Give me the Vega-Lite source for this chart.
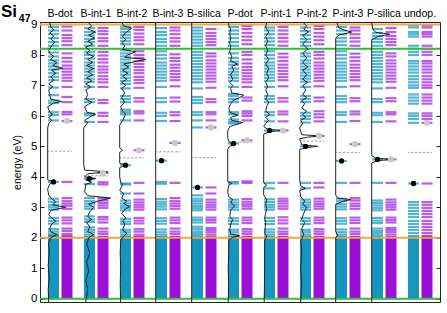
{
"$schema":"https://vega.github.io/schema/vega-lite/v6.json",
"width":400,"height":280,"autosize":"none",
"padding":{"left":40,"top":22,"right":7,"bottom":11},
"config":{"view":{"stroke":"#222","strokeWidth":1},"font":"Liberation Sans","axis":{"labelFont":"Liberation Sans","titleFont":"Liberation Sans"}},
"title":{"text":"Si","subtitle":"\u200b\u2003\u2002\u200947","anchor":"start","frame":"group","dx":-39,"dy":17,"offset":0,"fontSize":17,"fontWeight":"bold","font":"Liberation Sans","color":"#000","subtitleFont":"Liberation Sans","subtitleFontSize":10.5,"subtitleFontWeight":"bold","subtitleColor":"#000","subtitlePadding":-7},
"datasets":{
"blk":[{"c":0,"s":"u","lo":0,"hi":2.1},{"c":0,"s":"d","lo":0,"hi":2.08},{"c":1,"s":"u","lo":0,"hi":2.06},{"c":1,"s":"d","lo":0,"hi":2.06},{"c":2,"s":"u","lo":0,"hi":2.06},{"c":2,"s":"d","lo":0,"hi":2.06},{"c":3,"s":"u","lo":0,"hi":2.06},{"c":3,"s":"d","lo":0,"hi":2.06},{"c":4,"s":"u","lo":0,"hi":2.05},{"c":4,"s":"d","lo":0,"hi":2.05},{"c":5,"s":"u","lo":0,"hi":2.06},{"c":5,"s":"d","lo":0,"hi":2.06},{"c":6,"s":"u","lo":0,"hi":2.06},{"c":6,"s":"d","lo":0,"hi":2.06},{"c":7,"s":"u","lo":0,"hi":2.06},{"c":7,"s":"d","lo":0,"hi":2.06},{"c":8,"s":"u","lo":0,"hi":2.06},{"c":8,"s":"d","lo":0,"hi":2.06},{"c":9,"s":"u","lo":0,"hi":2.05},{"c":9,"s":"d","lo":0,"hi":2.05},{"c":10,"s":"u","lo":0,"hi":2.08},{"c":10,"s":"d","lo":0,"hi":2.08}],
"lv":[
{"c":0,"s":"u","e":2.12},{"c":0,"s":"u","e":2.2},{"c":0,"s":"u","e":2.28},{"c":0,"s":"u","e":2.46},{"c":0,"s":"u","e":2.55},{"c":0,"s":"u","e":2.65},{"c":0,"s":"u","e":2.92},{"c":0,"s":"u","e":3.0},{"c":0,"s":"u","e":3.08},{"c":0,"s":"u","e":3.18},{"c":0,"s":"u","e":3.28},{"c":0,"s":"u","e":3.83},{"c":0,"s":"u","e":5.85},{"c":0,"s":"u","e":6.03},{"c":0,"s":"u","e":6.12},{"c":0,"s":"u","e":6.42},{"c":0,"s":"u","e":6.5},{"c":0,"s":"u","e":6.68},{"c":0,"s":"u","e":6.93},{"c":0,"s":"u","e":7.17},{"c":0,"s":"u","e":7.28},{"c":0,"s":"u","e":7.4},{"c":0,"s":"u","e":7.52},{"c":0,"s":"u","e":7.62},{"c":0,"s":"u","e":7.72},{"c":0,"s":"u","e":7.82},{"c":0,"s":"u","e":7.95},{"c":0,"s":"u","e":8.08},{"c":0,"s":"u","e":8.3},{"c":0,"s":"u","e":8.42},{"c":0,"s":"u","e":8.55},{"c":0,"s":"u","e":8.68},{"c":0,"s":"u","e":8.8},{"c":0,"s":"u","e":8.92},
{"c":0,"s":"d","e":2.12},{"c":0,"s":"d","e":2.22},{"c":0,"s":"d","e":2.3},{"c":0,"s":"d","e":2.47},{"c":0,"s":"d","e":2.57},{"c":0,"s":"d","e":2.66},{"c":0,"s":"d","e":2.95},{"c":0,"s":"d","e":3.05},{"c":0,"s":"d","e":3.12},{"c":0,"s":"d","e":3.2},{"c":0,"s":"d","e":3.3},{"c":0,"s":"d","e":3.83},{"c":0,"s":"d","e":5.83},{"c":0,"s":"d","e":6.05},{"c":0,"s":"d","e":6.13},{"c":0,"s":"d","e":6.45},{"c":0,"s":"d","e":6.62},{"c":0,"s":"d","e":6.95},{"c":0,"s":"d","e":7.15},{"c":0,"s":"d","e":7.25},{"c":0,"s":"d","e":7.35},{"c":0,"s":"d","e":7.45},{"c":0,"s":"d","e":7.55},{"c":0,"s":"d","e":7.65},{"c":0,"s":"d","e":7.78},{"c":0,"s":"d","e":7.9},{"c":0,"s":"d","e":8.05},{"c":0,"s":"d","e":8.32},{"c":0,"s":"d","e":8.45},{"c":0,"s":"d","e":8.55},{"c":0,"s":"d","e":8.65},{"c":0,"s":"d","e":8.8},{"c":0,"s":"d","e":8.93},
{"c":1,"s":"u","e":2.1},{"c":1,"s":"u","e":2.18},{"c":1,"s":"u","e":2.26},{"c":1,"s":"u","e":2.34},{"c":1,"s":"u","e":2.52},{"c":1,"s":"u","e":2.6},{"c":1,"s":"u","e":2.7},{"c":1,"s":"u","e":2.95},{"c":1,"s":"u","e":3.03},{"c":1,"s":"u","e":3.12},{"c":1,"s":"u","e":3.2},{"c":1,"s":"u","e":3.3},{"c":1,"s":"u","e":3.76},{"c":1,"s":"u","e":3.94},{"c":1,"s":"u","e":5.8},{"c":1,"s":"u","e":6.02},{"c":1,"s":"u","e":6.08},{"c":1,"s":"u","e":6.45},{"c":1,"s":"u","e":6.55},{"c":1,"s":"u","e":6.95},{"c":1,"s":"u","e":7.12},{"c":1,"s":"u","e":7.22},{"c":1,"s":"u","e":7.33},{"c":1,"s":"u","e":7.45},{"c":1,"s":"u","e":7.55},{"c":1,"s":"u","e":7.65},{"c":1,"s":"u","e":7.75},{"c":1,"s":"u","e":7.88},{"c":1,"s":"u","e":8.0},{"c":1,"s":"u","e":8.1},{"c":1,"s":"u","e":8.3},{"c":1,"s":"u","e":8.42},{"c":1,"s":"u","e":8.52},{"c":1,"s":"u","e":8.64},{"c":1,"s":"u","e":8.75},{"c":1,"s":"u","e":8.88},
{"c":1,"s":"d","e":2.12},{"c":1,"s":"d","e":2.2},{"c":1,"s":"d","e":2.3},{"c":1,"s":"d","e":2.5},{"c":1,"s":"d","e":2.6},{"c":1,"s":"d","e":2.68},{"c":1,"s":"d","e":2.98},{"c":1,"s":"d","e":3.06},{"c":1,"s":"d","e":3.14},{"c":1,"s":"d","e":3.22},{"c":1,"s":"d","e":3.3},{"c":1,"s":"d","e":3.75},{"c":1,"s":"d","e":3.82},{"c":1,"s":"d","e":4.13},{"c":1,"s":"d","e":5.8},{"c":1,"s":"d","e":6.0},{"c":1,"s":"d","e":6.1},{"c":1,"s":"d","e":6.42},{"c":1,"s":"d","e":6.52},{"c":1,"s":"d","e":6.95},{"c":1,"s":"d","e":7.1},{"c":1,"s":"d","e":7.2},{"c":1,"s":"d","e":7.3},{"c":1,"s":"d","e":7.42},{"c":1,"s":"d","e":7.52},{"c":1,"s":"d","e":7.62},{"c":1,"s":"d","e":7.75},{"c":1,"s":"d","e":7.86},{"c":1,"s":"d","e":7.98},{"c":1,"s":"d","e":8.1},{"c":1,"s":"d","e":8.3},{"c":1,"s":"d","e":8.45},{"c":1,"s":"d","e":8.55},{"c":1,"s":"d","e":8.68},{"c":1,"s":"d","e":8.78},{"c":1,"s":"d","e":8.88},
{"c":2,"s":"u","e":2.1},{"c":2,"s":"u","e":2.18},{"c":2,"s":"u","e":2.26},{"c":2,"s":"u","e":2.45},{"c":2,"s":"u","e":2.53},{"c":2,"s":"u","e":2.62},{"c":2,"s":"u","e":2.9},{"c":2,"s":"u","e":2.98},{"c":2,"s":"u","e":3.05},{"c":2,"s":"u","e":3.13},{"c":2,"s":"u","e":3.22},{"c":2,"s":"u","e":3.45},{"c":2,"s":"u","e":3.75},{"c":2,"s":"u","e":3.78},{"c":2,"s":"u","e":4.38},{"c":2,"s":"u","e":5.85},{"c":2,"s":"u","e":6.05},{"c":2,"s":"u","e":6.12},{"c":2,"s":"u","e":6.2},{"c":2,"s":"u","e":6.45},{"c":2,"s":"u","e":6.55},{"c":2,"s":"u","e":6.65},{"c":2,"s":"u","e":6.9},{"c":2,"s":"u","e":7.05},{"c":2,"s":"u","e":7.15},{"c":2,"s":"u","e":7.25},{"c":2,"s":"u","e":7.35},{"c":2,"s":"u","e":7.45},{"c":2,"s":"u","e":7.55},{"c":2,"s":"u","e":7.65},{"c":2,"s":"u","e":7.75},{"c":2,"s":"u","e":7.85},{"c":2,"s":"u","e":7.95},{"c":2,"s":"u","e":8.05},{"c":2,"s":"u","e":8.15},{"c":2,"s":"u","e":8.35},{"c":2,"s":"u","e":8.45},{"c":2,"s":"u","e":8.55},{"c":2,"s":"u","e":8.65},{"c":2,"s":"u","e":8.75},{"c":2,"s":"u","e":8.85},{"c":2,"s":"u","e":8.93},
{"c":2,"s":"d","e":2.1},{"c":2,"s":"d","e":2.2},{"c":2,"s":"d","e":2.28},{"c":2,"s":"d","e":2.47},{"c":2,"s":"d","e":2.56},{"c":2,"s":"d","e":2.65},{"c":2,"s":"d","e":2.92},{"c":2,"s":"d","e":3.0},{"c":2,"s":"d","e":3.08},{"c":2,"s":"d","e":3.16},{"c":2,"s":"d","e":3.25},{"c":2,"s":"d","e":3.45},{"c":2,"s":"d","e":3.8},{"c":2,"s":"d","e":4.87},{"c":2,"s":"d","e":5.85},{"c":2,"s":"d","e":6.08},{"c":2,"s":"d","e":6.15},{"c":2,"s":"d","e":6.47},{"c":2,"s":"d","e":6.58},{"c":2,"s":"d","e":6.92},{"c":2,"s":"d","e":7.08},{"c":2,"s":"d","e":7.18},{"c":2,"s":"d","e":7.28},{"c":2,"s":"d","e":7.4},{"c":2,"s":"d","e":7.5},{"c":2,"s":"d","e":7.6},{"c":2,"s":"d","e":7.7},{"c":2,"s":"d","e":7.8},{"c":2,"s":"d","e":7.9},{"c":2,"s":"d","e":8.0},{"c":2,"s":"d","e":8.12},{"c":2,"s":"d","e":8.35},{"c":2,"s":"d","e":8.48},{"c":2,"s":"d","e":8.58},{"c":2,"s":"d","e":8.7},{"c":2,"s":"d","e":8.82},{"c":2,"s":"d","e":8.92},
{"c":3,"s":"u","e":2.1},{"c":3,"s":"u","e":2.18},{"c":3,"s":"u","e":2.27},{"c":3,"s":"u","e":2.46},{"c":3,"s":"u","e":2.55},{"c":3,"s":"u","e":2.64},{"c":3,"s":"u","e":2.93},{"c":3,"s":"u","e":3.02},{"c":3,"s":"u","e":3.1},{"c":3,"s":"u","e":3.18},{"c":3,"s":"u","e":3.27},{"c":3,"s":"u","e":3.77},{"c":3,"s":"u","e":3.83},{"c":3,"s":"u","e":4.53},{"c":3,"s":"u","e":5.83},{"c":3,"s":"u","e":6.0},{"c":3,"s":"u","e":6.1},{"c":3,"s":"u","e":6.45},{"c":3,"s":"u","e":6.58},{"c":3,"s":"u","e":6.95},{"c":3,"s":"u","e":7.15},{"c":3,"s":"u","e":7.25},{"c":3,"s":"u","e":7.35},{"c":3,"s":"u","e":7.45},{"c":3,"s":"u","e":7.55},{"c":3,"s":"u","e":7.65},{"c":3,"s":"u","e":7.75},{"c":3,"s":"u","e":7.88},{"c":3,"s":"u","e":8.0},{"c":3,"s":"u","e":8.12},{"c":3,"s":"u","e":8.3},{"c":3,"s":"u","e":8.42},{"c":3,"s":"u","e":8.52},{"c":3,"s":"u","e":8.65},{"c":3,"s":"u","e":8.75},{"c":3,"s":"u","e":8.88},
{"c":3,"s":"d","e":2.12},{"c":3,"s":"d","e":2.2},{"c":3,"s":"d","e":2.3},{"c":3,"s":"d","e":2.48},{"c":3,"s":"d","e":2.57},{"c":3,"s":"d","e":2.66},{"c":3,"s":"d","e":2.95},{"c":3,"s":"d","e":3.04},{"c":3,"s":"d","e":3.12},{"c":3,"s":"d","e":3.2},{"c":3,"s":"d","e":3.3},{"c":3,"s":"d","e":3.8},{"c":3,"s":"d","e":5.11},{"c":3,"s":"d","e":5.83},{"c":3,"s":"d","e":6.02},{"c":3,"s":"d","e":6.12},{"c":3,"s":"d","e":6.47},{"c":3,"s":"d","e":6.6},{"c":3,"s":"d","e":6.97},{"c":3,"s":"d","e":7.17},{"c":3,"s":"d","e":7.27},{"c":3,"s":"d","e":7.37},{"c":3,"s":"d","e":7.47},{"c":3,"s":"d","e":7.58},{"c":3,"s":"d","e":7.68},{"c":3,"s":"d","e":7.8},{"c":3,"s":"d","e":7.9},{"c":3,"s":"d","e":8.02},{"c":3,"s":"d","e":8.3},{"c":3,"s":"d","e":8.44},{"c":3,"s":"d","e":8.55},{"c":3,"s":"d","e":8.68},{"c":3,"s":"d","e":8.8},{"c":3,"s":"d","e":8.9},
{"c":4,"s":"u","e":2.08},{"c":4,"s":"u","e":2.14},{"c":4,"s":"u","e":2.2},{"c":4,"s":"u","e":2.28},{"c":4,"s":"u","e":2.36},{"c":4,"s":"u","e":2.5},{"c":4,"s":"u","e":2.58},{"c":4,"s":"u","e":2.66},{"c":4,"s":"u","e":2.9},{"c":4,"s":"u","e":2.97},{"c":4,"s":"u","e":3.04},{"c":4,"s":"u","e":3.12},{"c":4,"s":"u","e":3.2},{"c":4,"s":"u","e":3.28},{"c":4,"s":"u","e":3.39},{"c":4,"s":"u","e":3.65},{"c":4,"s":"u","e":5.62},{"c":4,"s":"u","e":5.85},{"c":4,"s":"u","e":6.03},{"c":4,"s":"u","e":6.12},{"c":4,"s":"u","e":6.42},{"c":4,"s":"u","e":6.52},{"c":4,"s":"u","e":6.62},{"c":4,"s":"u","e":6.9},{"c":4,"s":"u","e":7.1},{"c":4,"s":"u","e":7.2},{"c":4,"s":"u","e":7.3},{"c":4,"s":"u","e":7.4},{"c":4,"s":"u","e":7.5},{"c":4,"s":"u","e":7.6},{"c":4,"s":"u","e":7.7},{"c":4,"s":"u","e":7.8},{"c":4,"s":"u","e":7.9},{"c":4,"s":"u","e":8.0},{"c":4,"s":"u","e":8.1},{"c":4,"s":"u","e":8.3},{"c":4,"s":"u","e":8.4},{"c":4,"s":"u","e":8.5},{"c":4,"s":"u","e":8.6},{"c":4,"s":"u","e":8.7},{"c":4,"s":"u","e":8.8},{"c":4,"s":"u","e":8.9},
{"c":4,"s":"d","e":2.1},{"c":4,"s":"d","e":2.18},{"c":4,"s":"d","e":2.25},{"c":4,"s":"d","e":2.32},{"c":4,"s":"d","e":2.5},{"c":4,"s":"d","e":2.58},{"c":4,"s":"d","e":2.66},{"c":4,"s":"d","e":2.92},{"c":4,"s":"d","e":3.0},{"c":4,"s":"d","e":3.08},{"c":4,"s":"d","e":3.16},{"c":4,"s":"d","e":3.25},{"c":4,"s":"d","e":3.45},{"c":4,"s":"d","e":3.65},{"c":4,"s":"d","e":5.62},{"c":4,"s":"d","e":5.85},{"c":4,"s":"d","e":6.05},{"c":4,"s":"d","e":6.12},{"c":4,"s":"d","e":6.45},{"c":4,"s":"d","e":6.55},{"c":4,"s":"d","e":6.92},{"c":4,"s":"d","e":7.12},{"c":4,"s":"d","e":7.22},{"c":4,"s":"d","e":7.32},{"c":4,"s":"d","e":7.42},{"c":4,"s":"d","e":7.52},{"c":4,"s":"d","e":7.62},{"c":4,"s":"d","e":7.72},{"c":4,"s":"d","e":7.82},{"c":4,"s":"d","e":7.95},{"c":4,"s":"d","e":8.05},{"c":4,"s":"d","e":8.32},{"c":4,"s":"d","e":8.42},{"c":4,"s":"d","e":8.52},{"c":4,"s":"d","e":8.62},{"c":4,"s":"d","e":8.72},{"c":4,"s":"d","e":8.85},
{"c":5,"s":"u","e":2.1},{"c":5,"s":"u","e":2.18},{"c":5,"s":"u","e":2.26},{"c":5,"s":"u","e":2.45},{"c":5,"s":"u","e":2.55},{"c":5,"s":"u","e":2.64},{"c":5,"s":"u","e":2.92},{"c":5,"s":"u","e":3.0},{"c":5,"s":"u","e":3.08},{"c":5,"s":"u","e":3.16},{"c":5,"s":"u","e":3.25},{"c":5,"s":"u","e":3.78},{"c":5,"s":"u","e":3.83},{"c":5,"s":"u","e":5.09},{"c":5,"s":"u","e":5.75},{"c":5,"s":"u","e":5.8},{"c":5,"s":"u","e":5.88},{"c":5,"s":"u","e":6.05},{"c":5,"s":"u","e":6.12},{"c":5,"s":"u","e":6.45},{"c":5,"s":"u","e":6.55},{"c":5,"s":"u","e":6.65},{"c":5,"s":"u","e":6.72},{"c":5,"s":"u","e":6.95},{"c":5,"s":"u","e":7.15},{"c":5,"s":"u","e":7.25},{"c":5,"s":"u","e":7.35},{"c":5,"s":"u","e":7.45},{"c":5,"s":"u","e":7.55},{"c":5,"s":"u","e":7.68},{"c":5,"s":"u","e":7.78},{"c":5,"s":"u","e":7.9},{"c":5,"s":"u","e":8.05},{"c":5,"s":"u","e":8.3},{"c":5,"s":"u","e":8.42},{"c":5,"s":"u","e":8.55},{"c":5,"s":"u","e":8.68},{"c":5,"s":"u","e":8.8},{"c":5,"s":"u","e":8.92},
{"c":5,"s":"d","e":2.12},{"c":5,"s":"d","e":2.2},{"c":5,"s":"d","e":2.28},{"c":5,"s":"d","e":2.48},{"c":5,"s":"d","e":2.57},{"c":5,"s":"d","e":2.66},{"c":5,"s":"d","e":2.95},{"c":5,"s":"d","e":3.03},{"c":5,"s":"d","e":3.1},{"c":5,"s":"d","e":3.18},{"c":5,"s":"d","e":3.27},{"c":5,"s":"d","e":3.8},{"c":5,"s":"d","e":3.85},{"c":5,"s":"d","e":5.2},{"c":5,"s":"d","e":5.85},{"c":5,"s":"d","e":6.0},{"c":5,"s":"d","e":6.08},{"c":5,"s":"d","e":6.15},{"c":5,"s":"d","e":6.5},{"c":5,"s":"d","e":6.6},{"c":5,"s":"d","e":6.95},{"c":5,"s":"d","e":7.1},{"c":5,"s":"d","e":7.2},{"c":5,"s":"d","e":7.3},{"c":5,"s":"d","e":7.4},{"c":5,"s":"d","e":7.5},{"c":5,"s":"d","e":7.6},{"c":5,"s":"d","e":7.72},{"c":5,"s":"d","e":7.85},{"c":5,"s":"d","e":8.0},{"c":5,"s":"d","e":8.1},{"c":5,"s":"d","e":8.35},{"c":5,"s":"d","e":8.48},{"c":5,"s":"d","e":8.6},{"c":5,"s":"d","e":8.72},{"c":5,"s":"d","e":8.85},{"c":5,"s":"d","e":8.95},
{"c":6,"s":"u","e":2.1},{"c":6,"s":"u","e":2.18},{"c":6,"s":"u","e":2.27},{"c":6,"s":"u","e":2.45},{"c":6,"s":"u","e":2.55},{"c":6,"s":"u","e":2.65},{"c":6,"s":"u","e":2.92},{"c":6,"s":"u","e":3.0},{"c":6,"s":"u","e":3.08},{"c":6,"s":"u","e":3.17},{"c":6,"s":"u","e":3.26},{"c":6,"s":"u","e":3.62},{"c":6,"s":"u","e":3.8},{"c":6,"s":"u","e":5.52},{"c":6,"s":"u","e":5.82},{"c":6,"s":"u","e":6.02},{"c":6,"s":"u","e":6.12},{"c":6,"s":"u","e":6.45},{"c":6,"s":"u","e":6.55},{"c":6,"s":"u","e":6.65},{"c":6,"s":"u","e":6.95},{"c":6,"s":"u","e":7.15},{"c":6,"s":"u","e":7.25},{"c":6,"s":"u","e":7.35},{"c":6,"s":"u","e":7.45},{"c":6,"s":"u","e":7.55},{"c":6,"s":"u","e":7.65},{"c":6,"s":"u","e":7.75},{"c":6,"s":"u","e":7.88},{"c":6,"s":"u","e":8.0},{"c":6,"s":"u","e":8.12},{"c":6,"s":"u","e":8.32},{"c":6,"s":"u","e":8.44},{"c":6,"s":"u","e":8.55},{"c":6,"s":"u","e":8.68},{"c":6,"s":"u","e":8.8},{"c":6,"s":"u","e":8.9},
{"c":6,"s":"d","e":2.12},{"c":6,"s":"d","e":2.2},{"c":6,"s":"d","e":2.3},{"c":6,"s":"d","e":2.47},{"c":6,"s":"d","e":2.57},{"c":6,"s":"d","e":2.67},{"c":6,"s":"d","e":2.95},{"c":6,"s":"d","e":3.03},{"c":6,"s":"d","e":3.12},{"c":6,"s":"d","e":3.2},{"c":6,"s":"d","e":3.28},{"c":6,"s":"d","e":3.8},{"c":6,"s":"d","e":5.52},{"c":6,"s":"d","e":5.82},{"c":6,"s":"d","e":6.05},{"c":6,"s":"d","e":6.14},{"c":6,"s":"d","e":6.47},{"c":6,"s":"d","e":6.58},{"c":6,"s":"d","e":6.97},{"c":6,"s":"d","e":7.17},{"c":6,"s":"d","e":7.27},{"c":6,"s":"d","e":7.37},{"c":6,"s":"d","e":7.47},{"c":6,"s":"d","e":7.58},{"c":6,"s":"d","e":7.68},{"c":6,"s":"d","e":7.8},{"c":6,"s":"d","e":7.92},{"c":6,"s":"d","e":8.04},{"c":6,"s":"d","e":8.3},{"c":6,"s":"d","e":8.44},{"c":6,"s":"d","e":8.56},{"c":6,"s":"d","e":8.68},{"c":6,"s":"d","e":8.8},{"c":6,"s":"d","e":8.92},
{"c":7,"s":"u","e":2.1},{"c":7,"s":"u","e":2.18},{"c":7,"s":"u","e":2.26},{"c":7,"s":"u","e":2.45},{"c":7,"s":"u","e":2.55},{"c":7,"s":"u","e":2.64},{"c":7,"s":"u","e":2.92},{"c":7,"s":"u","e":3.0},{"c":7,"s":"u","e":3.08},{"c":7,"s":"u","e":3.16},{"c":7,"s":"u","e":3.25},{"c":7,"s":"u","e":3.62},{"c":7,"s":"u","e":3.8},{"c":7,"s":"u","e":5.0},{"c":7,"s":"u","e":5.78},{"c":7,"s":"u","e":5.9},{"c":7,"s":"u","e":6.0},{"c":7,"s":"u","e":6.1},{"c":7,"s":"u","e":6.45},{"c":7,"s":"u","e":6.55},{"c":7,"s":"u","e":6.65},{"c":7,"s":"u","e":6.95},{"c":7,"s":"u","e":7.12},{"c":7,"s":"u","e":7.22},{"c":7,"s":"u","e":7.32},{"c":7,"s":"u","e":7.42},{"c":7,"s":"u","e":7.52},{"c":7,"s":"u","e":7.62},{"c":7,"s":"u","e":7.72},{"c":7,"s":"u","e":7.82},{"c":7,"s":"u","e":7.95},{"c":7,"s":"u","e":8.05},{"c":7,"s":"u","e":8.3},{"c":7,"s":"u","e":8.42},{"c":7,"s":"u","e":8.52},{"c":7,"s":"u","e":8.65},{"c":7,"s":"u","e":8.78},{"c":7,"s":"u","e":8.9},
{"c":7,"s":"d","e":2.12},{"c":7,"s":"d","e":2.2},{"c":7,"s":"d","e":2.28},{"c":7,"s":"d","e":2.48},{"c":7,"s":"d","e":2.57},{"c":7,"s":"d","e":2.66},{"c":7,"s":"d","e":2.95},{"c":7,"s":"d","e":3.03},{"c":7,"s":"d","e":3.11},{"c":7,"s":"d","e":3.19},{"c":7,"s":"d","e":3.28},{"c":7,"s":"d","e":3.65},{"c":7,"s":"d","e":3.8},{"c":7,"s":"d","e":5.34},{"c":7,"s":"d","e":5.82},{"c":7,"s":"d","e":5.95},{"c":7,"s":"d","e":6.05},{"c":7,"s":"d","e":6.15},{"c":7,"s":"d","e":6.48},{"c":7,"s":"d","e":6.6},{"c":7,"s":"d","e":6.97},{"c":7,"s":"d","e":7.15},{"c":7,"s":"d","e":7.25},{"c":7,"s":"d","e":7.35},{"c":7,"s":"d","e":7.45},{"c":7,"s":"d","e":7.55},{"c":7,"s":"d","e":7.65},{"c":7,"s":"d","e":7.75},{"c":7,"s":"d","e":7.88},{"c":7,"s":"d","e":8.0},{"c":7,"s":"d","e":8.1},{"c":7,"s":"d","e":8.35},{"c":7,"s":"d","e":8.48},{"c":7,"s":"d","e":8.6},{"c":7,"s":"d","e":8.72},{"c":7,"s":"d","e":8.85},{"c":7,"s":"d","e":8.95},
{"c":8,"s":"u","e":2.1},{"c":8,"s":"u","e":2.18},{"c":8,"s":"u","e":2.27},{"c":8,"s":"u","e":2.46},{"c":8,"s":"u","e":2.55},{"c":8,"s":"u","e":2.64},{"c":8,"s":"u","e":2.93},{"c":8,"s":"u","e":3.02},{"c":8,"s":"u","e":3.1},{"c":8,"s":"u","e":3.2},{"c":8,"s":"u","e":3.28},{"c":8,"s":"u","e":3.8},{"c":8,"s":"u","e":4.52},{"c":8,"s":"u","e":5.8},{"c":8,"s":"u","e":6.03},{"c":8,"s":"u","e":6.12},{"c":8,"s":"u","e":6.45},{"c":8,"s":"u","e":6.55},{"c":8,"s":"u","e":6.65},{"c":8,"s":"u","e":6.95},{"c":8,"s":"u","e":7.15},{"c":8,"s":"u","e":7.25},{"c":8,"s":"u","e":7.35},{"c":8,"s":"u","e":7.45},{"c":8,"s":"u","e":7.55},{"c":8,"s":"u","e":7.65},{"c":8,"s":"u","e":7.75},{"c":8,"s":"u","e":7.88},{"c":8,"s":"u","e":8.0},{"c":8,"s":"u","e":8.12},{"c":8,"s":"u","e":8.32},{"c":8,"s":"u","e":8.44},{"c":8,"s":"u","e":8.55},{"c":8,"s":"u","e":8.68},{"c":8,"s":"u","e":8.8},{"c":8,"s":"u","e":8.92},
{"c":8,"s":"d","e":2.12},{"c":8,"s":"d","e":2.2},{"c":8,"s":"d","e":2.3},{"c":8,"s":"d","e":2.48},{"c":8,"s":"d","e":2.57},{"c":8,"s":"d","e":2.66},{"c":8,"s":"d","e":2.95},{"c":8,"s":"d","e":3.04},{"c":8,"s":"d","e":3.12},{"c":8,"s":"d","e":3.22},{"c":8,"s":"d","e":3.3},{"c":8,"s":"d","e":3.8},{"c":8,"s":"d","e":5.07},{"c":8,"s":"d","e":5.83},{"c":8,"s":"d","e":6.05},{"c":8,"s":"d","e":6.14},{"c":8,"s":"d","e":6.48},{"c":8,"s":"d","e":6.58},{"c":8,"s":"d","e":6.97},{"c":8,"s":"d","e":7.17},{"c":8,"s":"d","e":7.27},{"c":8,"s":"d","e":7.37},{"c":8,"s":"d","e":7.47},{"c":8,"s":"d","e":7.58},{"c":8,"s":"d","e":7.68},{"c":8,"s":"d","e":7.8},{"c":8,"s":"d","e":7.92},{"c":8,"s":"d","e":8.04},{"c":8,"s":"d","e":8.3},{"c":8,"s":"d","e":8.44},{"c":8,"s":"d","e":8.56},{"c":8,"s":"d","e":8.68},{"c":8,"s":"d","e":8.8},{"c":8,"s":"d","e":8.9},
{"c":9,"s":"u","e":2.08},{"c":9,"s":"u","e":2.15},{"c":9,"s":"u","e":2.22},{"c":9,"s":"u","e":2.3},{"c":9,"s":"u","e":2.48},{"c":9,"s":"u","e":2.56},{"c":9,"s":"u","e":2.65},{"c":9,"s":"u","e":2.9},{"c":9,"s":"u","e":2.98},{"c":9,"s":"u","e":3.06},{"c":9,"s":"u","e":3.14},{"c":9,"s":"u","e":3.22},{"c":9,"s":"u","e":3.8},{"c":9,"s":"u","e":4.57},{"c":9,"s":"u","e":5.8},{"c":9,"s":"u","e":6.02},{"c":9,"s":"u","e":6.1},{"c":9,"s":"u","e":6.45},{"c":9,"s":"u","e":6.55},{"c":9,"s":"u","e":6.9},{"c":9,"s":"u","e":7.1},{"c":9,"s":"u","e":7.2},{"c":9,"s":"u","e":7.3},{"c":9,"s":"u","e":7.4},{"c":9,"s":"u","e":7.5},{"c":9,"s":"u","e":7.6},{"c":9,"s":"u","e":7.7},{"c":9,"s":"u","e":7.8},{"c":9,"s":"u","e":7.9},{"c":9,"s":"u","e":8.0},{"c":9,"s":"u","e":8.1},{"c":9,"s":"u","e":8.3},{"c":9,"s":"u","e":8.42},{"c":9,"s":"u","e":8.52},{"c":9,"s":"u","e":8.62},{"c":9,"s":"u","e":8.72},{"c":9,"s":"u","e":8.85},
{"c":9,"s":"d","e":2.1},{"c":9,"s":"d","e":2.18},{"c":9,"s":"d","e":2.25},{"c":9,"s":"d","e":2.32},{"c":9,"s":"d","e":2.5},{"c":9,"s":"d","e":2.58},{"c":9,"s":"d","e":2.66},{"c":9,"s":"d","e":2.92},{"c":9,"s":"d","e":3.0},{"c":9,"s":"d","e":3.08},{"c":9,"s":"d","e":3.16},{"c":9,"s":"d","e":3.25},{"c":9,"s":"d","e":3.8},{"c":9,"s":"d","e":4.57},{"c":9,"s":"d","e":5.82},{"c":9,"s":"d","e":6.05},{"c":9,"s":"d","e":6.12},{"c":9,"s":"d","e":6.48},{"c":9,"s":"d","e":6.58},{"c":9,"s":"d","e":6.92},{"c":9,"s":"d","e":7.12},{"c":9,"s":"d","e":7.22},{"c":9,"s":"d","e":7.32},{"c":9,"s":"d","e":7.42},{"c":9,"s":"d","e":7.52},{"c":9,"s":"d","e":7.62},{"c":9,"s":"d","e":7.72},{"c":9,"s":"d","e":7.82},{"c":9,"s":"d","e":7.95},{"c":9,"s":"d","e":8.05},{"c":9,"s":"d","e":8.32},{"c":9,"s":"d","e":8.42},{"c":9,"s":"d","e":8.52},{"c":9,"s":"d","e":8.62},{"c":9,"s":"d","e":8.75},{"c":9,"s":"d","e":8.88},
{"c":10,"s":"u","e":2.15},{"c":10,"s":"u","e":2.25},{"c":10,"s":"u","e":2.35},{"c":10,"s":"u","e":2.45},{"c":10,"s":"u","e":2.55},{"c":10,"s":"u","e":2.68},{"c":10,"s":"u","e":2.78},{"c":10,"s":"u","e":2.88},{"c":10,"s":"u","e":2.98},{"c":10,"s":"u","e":3.08},{"c":10,"s":"u","e":3.17},{"c":10,"s":"u","e":3.78},{"c":10,"s":"u","e":5.77},{"c":10,"s":"u","e":5.9},{"c":10,"s":"u","e":6.0},{"c":10,"s":"u","e":6.08},{"c":10,"s":"u","e":6.4},{"c":10,"s":"u","e":6.5},{"c":10,"s":"u","e":6.6},{"c":10,"s":"u","e":6.7},{"c":10,"s":"u","e":6.92},{"c":10,"s":"u","e":7.0},{"c":10,"s":"u","e":7.1},{"c":10,"s":"u","e":7.2},{"c":10,"s":"u","e":7.3},{"c":10,"s":"u","e":7.42},{"c":10,"s":"u","e":7.52},{"c":10,"s":"u","e":7.62},{"c":10,"s":"u","e":7.72},{"c":10,"s":"u","e":7.8},{"c":10,"s":"u","e":8.0},{"c":10,"s":"u","e":8.1},{"c":10,"s":"u","e":8.2},{"c":10,"s":"u","e":8.3},{"c":10,"s":"u","e":8.6},{"c":10,"s":"u","e":8.68},{"c":10,"s":"u","e":8.75},{"c":10,"s":"u","e":8.9},{"c":10,"s":"u","e":8.97},
{"c":10,"s":"d","e":2.15},{"c":10,"s":"d","e":2.25},{"c":10,"s":"d","e":2.35},{"c":10,"s":"d","e":2.45},{"c":10,"s":"d","e":2.55},{"c":10,"s":"d","e":2.68},{"c":10,"s":"d","e":2.78},{"c":10,"s":"d","e":2.88},{"c":10,"s":"d","e":2.98},{"c":10,"s":"d","e":3.08},{"c":10,"s":"d","e":3.17},{"c":10,"s":"d","e":3.78},{"c":10,"s":"d","e":5.77},{"c":10,"s":"d","e":5.9},{"c":10,"s":"d","e":6.0},{"c":10,"s":"d","e":6.08},{"c":10,"s":"d","e":6.4},{"c":10,"s":"d","e":6.5},{"c":10,"s":"d","e":6.6},{"c":10,"s":"d","e":6.7},{"c":10,"s":"d","e":6.92},{"c":10,"s":"d","e":7.0},{"c":10,"s":"d","e":7.1},{"c":10,"s":"d","e":7.2},{"c":10,"s":"d","e":7.3},{"c":10,"s":"d","e":7.42},{"c":10,"s":"d","e":7.52},{"c":10,"s":"d","e":7.62},{"c":10,"s":"d","e":7.72},{"c":10,"s":"d","e":7.8},{"c":10,"s":"d","e":8.0},{"c":10,"s":"d","e":8.1},{"c":10,"s":"d","e":8.2},{"c":10,"s":"d","e":8.3},{"c":10,"s":"d","e":8.6},{"c":10,"s":"d","e":8.68},{"c":10,"s":"d","e":8.75},{"c":10,"s":"d","e":8.9},{"c":10,"s":"d","e":8.97}
],
"dos":[
{"c":0,"e":-0.11,"d":1},{"c":0,"e":0.3,"d":0.5},{"c":0,"e":0.7,"d":1.5},{"c":0,"e":1.1,"d":0.5},{"c":0,"e":1.5,"d":1.5},{"c":0,"e":1.85,"d":1},{"c":0,"e":2.0,"d":3},{"c":0,"e":2.1,"d":9},{"c":0,"e":2.2,"d":3},{"c":0,"e":2.3,"d":2},{"c":0,"e":2.45,"d":4},{"c":0,"e":2.55,"d":8},{"c":0,"e":2.65,"d":4},{"c":0,"e":2.75,"d":1},{"c":0,"e":2.9,"d":3},{"c":0,"e":3.0,"d":18},{"c":0,"e":3.08,"d":5},{"c":0,"e":3.18,"d":8},{"c":0,"e":3.28,"d":4},{"c":0,"e":3.4,"d":1},{"c":0,"e":3.6,"d":0},{"c":0,"e":3.76,"d":2},{"c":0,"e":3.83,"d":6},{"c":0,"e":3.9,"d":0},{"c":0,"e":5.6,"d":0},{"c":0,"e":5.75,"d":1},{"c":0,"e":5.85,"d":4},{"c":0,"e":5.95,"d":1},{"c":0,"e":6.05,"d":5},{"c":0,"e":6.12,"d":2},{"c":0,"e":6.3,"d":0},{"c":0,"e":6.42,"d":6},{"c":0,"e":6.47,"d":14},{"c":0,"e":6.55,"d":3},{"c":0,"e":6.7,"d":2},{"c":0,"e":6.85,"d":1},{"c":0,"e":6.95,"d":5},{"c":0,"e":7.05,"d":1},{"c":0,"e":7.17,"d":6},{"c":0,"e":7.28,"d":3},{"c":0,"e":7.4,"d":8},{"c":0,"e":7.5,"d":4},{"c":0,"e":7.56,"d":15},{"c":0,"e":7.65,"d":5},{"c":0,"e":7.75,"d":9},{"c":0,"e":7.85,"d":3},{"c":0,"e":7.95,"d":6},{"c":0,"e":8.05,"d":2},{"c":0,"e":8.15,"d":1},{"c":0,"e":8.3,"d":4},{"c":0,"e":8.42,"d":7},{"c":0,"e":8.52,"d":3},{"c":0,"e":8.62,"d":6},{"c":0,"e":8.72,"d":2},{"c":0,"e":8.82,"d":6},{"c":0,"e":8.92,"d":3},{"c":0,"e":9.08,"d":2},
{"c":1,"e":-0.11,"d":2},{"c":1,"e":0.3,"d":4},{"c":1,"e":0.6,"d":2},{"c":1,"e":0.9,"d":5},{"c":1,"e":1.2,"d":3},{"c":1,"e":1.5,"d":6},{"c":1,"e":1.8,"d":3},{"c":1,"e":2.0,"d":5},{"c":1,"e":2.1,"d":10},{"c":1,"e":2.2,"d":4},{"c":1,"e":2.35,"d":6},{"c":1,"e":2.5,"d":3},{"c":1,"e":2.6,"d":8},{"c":1,"e":2.7,"d":4},{"c":1,"e":2.85,"d":6},{"c":1,"e":3.0,"d":10},{"c":1,"e":3.1,"d":5},{"c":1,"e":3.2,"d":14},{"c":1,"e":3.3,"d":27},{"c":1,"e":3.38,"d":4},{"c":1,"e":3.5,"d":1},{"c":1,"e":3.75,"d":2},{"c":1,"e":3.82,"d":8},{"c":1,"e":3.9,"d":2},{"c":1,"e":3.94,"d":12},{"c":1,"e":4.0,"d":1},{"c":1,"e":4.1,"d":4},{"c":1,"e":4.16,"d":24},{"c":1,"e":4.22,"d":1},{"c":1,"e":4.4,"d":0},{"c":1,"e":5.6,"d":0},{"c":1,"e":5.78,"d":4},{"c":1,"e":5.85,"d":1},{"c":1,"e":6.0,"d":8},{"c":1,"e":6.05,"d":12},{"c":1,"e":6.12,"d":3},{"c":1,"e":6.3,"d":1},{"c":1,"e":6.45,"d":8},{"c":1,"e":6.55,"d":2},{"c":1,"e":6.7,"d":4},{"c":1,"e":6.85,"d":2},{"c":1,"e":6.95,"d":7},{"c":1,"e":7.05,"d":2},{"c":1,"e":7.15,"d":8},{"c":1,"e":7.25,"d":3},{"c":1,"e":7.35,"d":9},{"c":1,"e":7.45,"d":4},{"c":1,"e":7.55,"d":10},{"c":1,"e":7.65,"d":3},{"c":1,"e":7.75,"d":9},{"c":1,"e":7.85,"d":4},{"c":1,"e":7.95,"d":10},{"c":1,"e":8.05,"d":3},{"c":1,"e":8.15,"d":6},{"c":1,"e":8.25,"d":2},{"c":1,"e":8.35,"d":9},{"c":1,"e":8.45,"d":4},{"c":1,"e":8.55,"d":11},{"c":1,"e":8.65,"d":5},{"c":1,"e":8.75,"d":12},{"c":1,"e":8.85,"d":4},{"c":1,"e":8.95,"d":8},{"c":1,"e":9.08,"d":4},
{"c":2,"e":-0.11,"d":1},{"c":2,"e":0.5,"d":0.5},{"c":2,"e":1.0,"d":1},{"c":2,"e":1.5,"d":0.5},{"c":2,"e":1.9,"d":1},{"c":2,"e":2.05,"d":4},{"c":2,"e":2.15,"d":7},{"c":2,"e":2.25,"d":3},{"c":2,"e":2.45,"d":5},{"c":2,"e":2.55,"d":3},{"c":2,"e":2.65,"d":6},{"c":2,"e":2.8,"d":2},{"c":2,"e":2.95,"d":6},{"c":2,"e":3.02,"d":10},{"c":2,"e":3.12,"d":4},{"c":2,"e":3.2,"d":7},{"c":2,"e":3.3,"d":2},{"c":2,"e":3.45,"d":4},{"c":2,"e":3.55,"d":0},{"c":2,"e":3.75,"d":3},{"c":2,"e":3.82,"d":1},{"c":2,"e":4.0,"d":0},{"c":2,"e":4.3,"d":0},{"c":2,"e":4.38,"d":6},{"c":2,"e":4.45,"d":0},{"c":2,"e":4.8,"d":0},{"c":2,"e":4.87,"d":3},{"c":2,"e":4.95,"d":0},{"c":2,"e":5.7,"d":0},{"c":2,"e":5.85,"d":3},{"c":2,"e":6.05,"d":6},{"c":2,"e":6.15,"d":3},{"c":2,"e":6.3,"d":1},{"c":2,"e":6.45,"d":5},{"c":2,"e":6.6,"d":2},{"c":2,"e":6.75,"d":5},{"c":2,"e":6.9,"d":2},{"c":2,"e":7.0,"d":6},{"c":2,"e":7.1,"d":2},{"c":2,"e":7.2,"d":7},{"c":2,"e":7.3,"d":3},{"c":2,"e":7.4,"d":8},{"c":2,"e":7.5,"d":3},{"c":2,"e":7.6,"d":9},{"c":2,"e":7.7,"d":4},{"c":2,"e":7.85,"d":26},{"c":2,"e":7.92,"d":5},{"c":2,"e":8.0,"d":8},{"c":2,"e":8.1,"d":16},{"c":2,"e":8.18,"d":3},{"c":2,"e":8.3,"d":5},{"c":2,"e":8.4,"d":2},{"c":2,"e":8.5,"d":6},{"c":2,"e":8.6,"d":3},{"c":2,"e":8.7,"d":5},{"c":2,"e":8.8,"d":9},{"c":2,"e":8.88,"d":12},{"c":2,"e":8.95,"d":4},{"c":2,"e":9.08,"d":2},
{"c":3,"e":-0.11,"d":0},{"c":3,"e":9.08,"d":0},
{"c":4,"e":-0.11,"d":0},{"c":4,"e":9.08,"d":0},
{"c":5,"e":-0.11,"d":0.5},{"c":5,"e":0.5,"d":1},{"c":5,"e":1.0,"d":0.5},{"c":5,"e":1.5,"d":1},{"c":5,"e":1.9,"d":1},{"c":5,"e":2.0,"d":4},{"c":5,"e":2.06,"d":12},{"c":5,"e":2.12,"d":3},{"c":5,"e":2.25,"d":2},{"c":5,"e":2.45,"d":3},{"c":5,"e":2.6,"d":5},{"c":5,"e":2.7,"d":2},{"c":5,"e":2.9,"d":3},{"c":5,"e":3.05,"d":7},{"c":5,"e":3.15,"d":3},{"c":5,"e":3.25,"d":5},{"c":5,"e":3.35,"d":1},{"c":5,"e":3.5,"d":0},{"c":5,"e":3.72,"d":1},{"c":5,"e":3.78,"d":4},{"c":5,"e":3.85,"d":0},{"c":5,"e":4.9,"d":0},{"c":5,"e":5.0,"d":2},{"c":5,"e":5.09,"d":8},{"c":5,"e":5.15,"d":1},{"c":5,"e":5.3,"d":0},{"c":5,"e":5.5,"d":0},{"c":5,"e":5.65,"d":2},{"c":5,"e":5.78,"d":15},{"c":5,"e":5.85,"d":4},{"c":5,"e":5.95,"d":3},{"c":5,"e":6.02,"d":10},{"c":5,"e":6.1,"d":3},{"c":5,"e":6.25,"d":1},{"c":5,"e":6.4,"d":3},{"c":5,"e":6.5,"d":5},{"c":5,"e":6.6,"d":12},{"c":5,"e":6.68,"d":16},{"c":5,"e":6.75,"d":4},{"c":5,"e":6.9,"d":3},{"c":5,"e":7.0,"d":5},{"c":5,"e":7.1,"d":2},{"c":5,"e":7.2,"d":5},{"c":5,"e":7.35,"d":3},{"c":5,"e":7.5,"d":6},{"c":5,"e":7.62,"d":4},{"c":5,"e":7.7,"d":10},{"c":5,"e":7.8,"d":3},{"c":5,"e":7.95,"d":4},{"c":5,"e":8.1,"d":2},{"c":5,"e":8.25,"d":3},{"c":5,"e":8.4,"d":2},{"c":5,"e":8.55,"d":3},{"c":5,"e":8.7,"d":2},{"c":5,"e":8.85,"d":3},{"c":5,"e":8.95,"d":1},{"c":5,"e":9.08,"d":1},
{"c":6,"e":-0.11,"d":0.5},{"c":6,"e":1.0,"d":1},{"c":6,"e":1.9,"d":1},{"c":6,"e":2.05,"d":3},{"c":6,"e":2.15,"d":1},{"c":6,"e":2.5,"d":2},{"c":6,"e":2.65,"d":1},{"c":6,"e":2.95,"d":3},{"c":6,"e":3.1,"d":2},{"c":6,"e":3.25,"d":3},{"c":6,"e":3.4,"d":0},{"c":6,"e":3.65,"d":0},{"c":6,"e":3.72,"d":3},{"c":6,"e":3.8,"d":0},{"c":6,"e":5.4,"d":0},{"c":6,"e":5.48,"d":6},{"c":6,"e":5.52,"d":18},{"c":6,"e":5.56,"d":4},{"c":6,"e":5.65,"d":0},{"c":6,"e":5.75,"d":2},{"c":6,"e":5.85,"d":5},{"c":6,"e":5.95,"d":2},{"c":6,"e":6.05,"d":6},{"c":6,"e":6.15,"d":2},{"c":6,"e":6.3,"d":3},{"c":6,"e":6.45,"d":5},{"c":6,"e":6.55,"d":2},{"c":6,"e":6.7,"d":4},{"c":6,"e":6.85,"d":2},{"c":6,"e":6.95,"d":4},{"c":6,"e":7.1,"d":2},{"c":6,"e":7.25,"d":5},{"c":6,"e":7.4,"d":3},{"c":6,"e":7.55,"d":5},{"c":6,"e":7.7,"d":2},{"c":6,"e":7.85,"d":5},{"c":6,"e":8.0,"d":2},{"c":6,"e":8.15,"d":4},{"c":6,"e":8.3,"d":2},{"c":6,"e":8.45,"d":4},{"c":6,"e":8.6,"d":2},{"c":6,"e":8.75,"d":5},{"c":6,"e":8.9,"d":2},{"c":6,"e":9.08,"d":3},
{"c":7,"e":-0.11,"d":1},{"c":7,"e":0.5,"d":2},{"c":7,"e":1.0,"d":1},{"c":7,"e":1.5,"d":2},{"c":7,"e":1.9,"d":1},{"c":7,"e":2.1,"d":4},{"c":7,"e":2.3,"d":2},{"c":7,"e":2.5,"d":5},{"c":7,"e":2.6,"d":2},{"c":7,"e":2.8,"d":4},{"c":7,"e":3.0,"d":7},{"c":7,"e":3.1,"d":3},{"c":7,"e":3.2,"d":5},{"c":7,"e":3.35,"d":1},{"c":7,"e":3.55,"d":0},{"c":7,"e":3.62,"d":6},{"c":7,"e":3.7,"d":1},{"c":7,"e":3.9,"d":0},{"c":7,"e":4.9,"d":0},{"c":7,"e":4.96,"d":8},{"c":7,"e":5.0,"d":18},{"c":7,"e":5.05,"d":2},{"c":7,"e":5.25,"d":0},{"c":7,"e":5.3,"d":8},{"c":7,"e":5.34,"d":20},{"c":7,"e":5.38,"d":2},{"c":7,"e":5.6,"d":0},{"c":7,"e":5.75,"d":3},{"c":7,"e":5.85,"d":1},{"c":7,"e":5.95,"d":6},{"c":7,"e":6.05,"d":3},{"c":7,"e":6.15,"d":7},{"c":7,"e":6.25,"d":2},{"c":7,"e":6.4,"d":5},{"c":7,"e":6.5,"d":2},{"c":7,"e":6.6,"d":7},{"c":7,"e":6.7,"d":3},{"c":7,"e":6.85,"d":6},{"c":7,"e":7.0,"d":3},{"c":7,"e":7.1,"d":8},{"c":7,"e":7.2,"d":3},{"c":7,"e":7.35,"d":7},{"c":7,"e":7.5,"d":3},{"c":7,"e":7.6,"d":8},{"c":7,"e":7.75,"d":3},{"c":7,"e":7.9,"d":7},{"c":7,"e":8.05,"d":3},{"c":7,"e":8.2,"d":8},{"c":7,"e":8.35,"d":3},{"c":7,"e":8.5,"d":7},{"c":7,"e":8.65,"d":3},{"c":7,"e":8.75,"d":9},{"c":7,"e":8.85,"d":4},{"c":7,"e":8.95,"d":7},{"c":7,"e":9.08,"d":3},
{"c":8,"e":-0.11,"d":0},{"c":8,"e":2.0,"d":0},{"c":8,"e":2.08,"d":2},{"c":8,"e":2.2,"d":0},{"c":8,"e":3.1,"d":0},{"c":8,"e":3.2,"d":8},{"c":8,"e":3.25,"d":15},{"c":8,"e":3.3,"d":2},{"c":8,"e":3.4,"d":0},{"c":8,"e":8.55,"d":0},{"c":8,"e":8.65,"d":3},{"c":8,"e":8.75,"d":16},{"c":8,"e":8.82,"d":8},{"c":8,"e":8.9,"d":3},{"c":8,"e":9.08,"d":1},
{"c":9,"e":-0.11,"d":0},{"c":9,"e":4.45,"d":0},{"c":9,"e":4.53,"d":5},{"c":9,"e":4.57,"d":22},{"c":9,"e":4.61,"d":4},{"c":9,"e":4.7,"d":0},{"c":9,"e":8.5,"d":0},{"c":9,"e":8.6,"d":6},{"c":9,"e":8.68,"d":18},{"c":9,"e":8.74,"d":4},{"c":9,"e":8.85,"d":1},{"c":9,"e":9.08,"d":0}
],
"bk":[{"c":0,"e":3.83},{"c":1,"e":3.94},{"c":2,"e":4.38},{"c":3,"e":4.53},{"c":4,"e":3.65},{"c":5,"e":5.09},{"c":6,"e":5.52},{"c":7,"e":5.0},{"c":8,"e":4.52},{"c":9,"e":4.57},{"c":10,"e":3.78}],
"gy":[{"c":0,"e":5.83},{"c":1,"e":4.13},{"c":2,"e":4.87},{"c":3,"e":5.11},{"c":4,"e":5.62},{"c":5,"e":5.2},{"c":6,"e":5.52},{"c":7,"e":5.34},{"c":8,"e":5.07},{"c":9,"e":4.57},{"c":10,"e":5.77}],
"ef":[{"c":0,"e":4.84},{"c":1,"e":4.03},{"c":2,"e":4.62},{"c":3,"e":4.82},{"c":4,"e":4.63},{"c":5,"e":5.14},{"c":7,"e":5.17},{"c":8,"e":4.8},{"c":10,"e":4.8}],
"hl":[{"e":9,"k":"o"},{"e":2,"k":"o"},{"e":8.2,"k":"g"},{"e":0,"k":"g"}]
},
"layer":[
{"data":{"name":"blk"},"transform":[{"filter":"datum.s=='u'"}],
 "mark":{"type":"bar","width":11,"xOffset":-6.5,"color":"#1496c0"},
 "encoding":{
  "x":{"field":"c","type":"ordinal","scale":{"type":"band","domain":[0,1,2,3,4,5,6,7,8,9,10],"paddingInner":0,"paddingOuter":0.0556},
   "axis":{"orient":"top","title":null,"ticks":false,"domain":false,"labelAngle":0,"labelPadding":4,"labelFontSize":10.5,"labelColor":"#000","labelExpr":"['B-dot','B-int-1','B-int-2','B-int-3','B-silica','P-dot','P-int-1','P-int-2','P-int-3','P-silica','undop.'][datum.value]"}},
  "y":{"field":"lo","type":"quantitative","scale":{"domain":[-0.11,9.08],"nice":false,"zero":false},
   "axis":{"orient":"left","title":"energy (eV)","values":[0,1,2,3,4,5,6,7,8,9],"tickSize":-4,"tickColor":"#222","labelPadding":7,"labelFontSize":11.5,"labelColor":"#000","titleFontSize":10.5,"titleFontWeight":"normal","titleColor":"#000","titlePadding":8,"domain":false,"grid":false}},
  "y2":{"field":"hi"}}},
{"data":{"name":"blk"},"transform":[{"filter":"datum.s=='d'"}],
 "mark":{"type":"bar","width":11,"xOffset":7,"color":"#9a10d6"},
 "encoding":{"x":{"field":"c","type":"ordinal"},"y":{"field":"lo","type":"quantitative","axis":null},"y2":{"field":"hi"}}},
{"data":{"name":"lv"},"transform":[{"filter":"datum.s=='u'"}],
 "mark":{"type":"tick","orient":"horizontal","size":11,"thickness":2.2,"xOffset":-6.5,"color":"#1a9cc6","opacity":0.75},
 "encoding":{"x":{"field":"c","type":"ordinal"},"y":{"field":"e","type":"quantitative","axis":null}}},
{"data":{"name":"lv"},"transform":[{"filter":"datum.s=='d'"}],
 "mark":{"type":"tick","orient":"horizontal","size":11,"thickness":2.2,"xOffset":7,"color":"#a01ee0","opacity":0.72},
 "encoding":{"x":{"field":"c","type":"ordinal"},"y":{"field":"e","type":"quantitative","axis":null}}},
{"data":{"name":"hl"},
 "mark":{"type":"rule","strokeWidth":2},
 "encoding":{"y":{"field":"e","type":"quantitative","axis":{"orient":"right","title":null,"labels":false,"values":[0,1,2,3,4,5,6,7,8,9],"tickSize":-4,"tickColor":"#222","domain":false,"grid":false}},
  "color":{"field":"k","type":"nominal","scale":{"domain":["o","g"],"range":["#f5a53a","#2fbf2f"]},"legend":null}}},
{"data":{"name":"dos"},
 "mark":{"type":"line","color":"#222","strokeWidth":1,"clip":true},
 "encoding":{"x":{"field":"c","type":"ordinal"},
  "xOffset":{"field":"d","type":"quantitative","scale":{"domain":[0,36],"range":[5.7,41.7]}},
  "y":{"field":"e","type":"quantitative","axis":null},
  "detail":{"field":"c"},"order":{"field":"e"}}},
{"data":{"name":"ef"},
 "mark":{"type":"tick","orient":"horizontal","size":24,"thickness":0.3,"filled":false,"xOffset":0,"color":"#888","strokeDash":[1.5,2.5],"strokeWidth":1},
 "encoding":{"x":{"field":"c","type":"ordinal"},"y":{"field":"e","type":"quantitative","axis":null}}},
{"data":{"name":"gy"},
 "mark":{"type":"point","filled":true,"size":38,"xOffset":7,"color":"#c8c8c8","opacity":1},
 "encoding":{"x":{"field":"c","type":"ordinal"},"y":{"field":"e","type":"quantitative","axis":null}}},
{"data":{"name":"bk"},
 "mark":{"type":"point","filled":true,"size":28,"xOffset":-6.5,"color":"#000","opacity":1},
 "encoding":{"x":{"field":"c","type":"ordinal"},"y":{"field":"e","type":"quantitative","axis":null}}}
],
"resolve":{"axis":{"y":"independent"}}
}
